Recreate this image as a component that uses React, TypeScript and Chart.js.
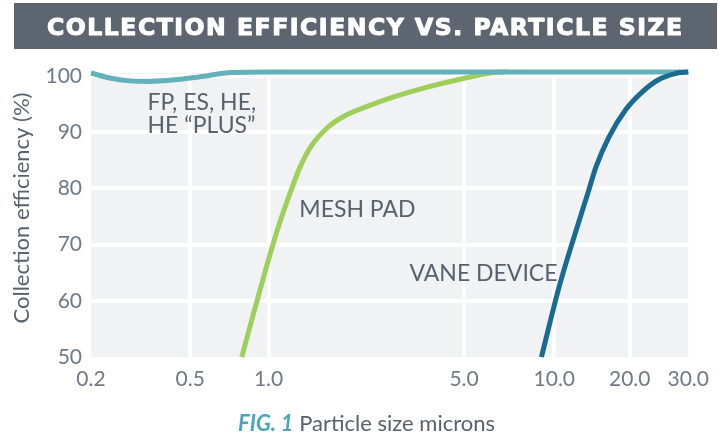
import React, { useEffect, useRef } from 'react';
import { Chart, LinearScale, registerables } from 'chart.js';

// ---- data ----
const X_TICKS = [0.2, 0.5, 1.0, 5.0, 10.0, 20.0, 30.0];
const Y_TICKS = [50, 60, 70, 80, 90, 100];

const FP_SIZE = [0.2, 0.238, 0.286, 0.343, 0.412, 0.541, 0.723, 1.0, 5.0, 30.0];
const FP_EFF = [100.5, 99.6, 99.1, 99.0, 99.2, 99.8, 100.6, 100.7, 100.7, 100.7];

const MESH_SIZE = [0.789, 0.877, 0.974, 1.085, 1.207, 1.299, 1.421, 1.633, 1.876, 2.264, 2.822, 3.698, 4.84, 6.28, 6.94];
const MESH_EFF = [50, 57.9, 65.5, 73.2, 79.8, 83.9, 87.5, 90.9, 92.9, 94.6, 96.3, 98.0, 99.4, 100.6, 100.7];

const VANE_SIZE = [9.06, 10.46, 12.0, 13.63, 14.67, 16.52, 19.29, 21.87, 24.4, 27.4, 30.0];
const VANE_EFF = [50, 62.5, 71.4, 79.2, 83.8, 89.1, 94.0, 97.2, 99.3, 100.4, 100.7];

const TITLE = 'COLLECTION EFFICIENCY VS. PARTICLE SIZE';
const Y_TITLE = 'Collection efficiency (%)';
const LABEL_TEXT = [['FP, ES, HE,', 'HE \u201CPLUS\u201D'], ['MESH PAD'], ['VANE DEVICE']];
const LABEL_AT_SIZE = [0.337, 1.288, 3.19];
const LABEL_AT_EFF = [94, 74.9, 63.5];

// ---- layout of the hand-drawn (non-uniform) particle size axis ----
const X_TICK_POS = [0, 0.1661, 0.2973, 0.6246, 0.7757, 0.902, 1];

function sizeToFraction(v: number): number {
  const t = X_TICKS, f = X_TICK_POS;
  let i = 0;
  if (v <= t[0]) i = 0;
  else if (v >= t[t.length - 1]) i = t.length - 2;
  else {
    while (i < t.length - 2 && v > t[i + 1]) i++;
  }
  return f[i] + (f[i + 1] - f[i]) * Math.log(v / t[i]) / Math.log(t[i + 1] / t[i]);
}
function fractionToSize(p: number): number {
  const t = X_TICKS, f = X_TICK_POS;
  let i = 0;
  if (p <= f[0]) i = 0;
  else if (p >= f[f.length - 1]) i = f.length - 2;
  else {
    while (i < f.length - 2 && p > f[i + 1]) i++;
  }
  return t[i] * Math.pow(t[i + 1] / t[i], (p - f[i]) / (f[i + 1] - f[i]));
}

class ParticleSizeScale extends LinearScale {
  static id = 'particleSize';
  getPixelForValue(value: any) {
    if (value === null || value === undefined || isNaN(value)) return NaN as any;
    return this.getPixelForDecimal(sizeToFraction(+value));
  }
  getValueForPixel(pixel: number) {
    return fractionToSize(this.getDecimalForPixel(pixel));
  }
}

Chart.register(...registerables, ParticleSizeScale);

const FONT = 'Lato, "Open Sans", sans-serif';
const TEXT = '#57626c';

const plotPlugin = {
  id: 'plotDecor',
  beforeDraw(chart: any) {
    const { ctx, chartArea: a } = chart;
    ctx.save();
    ctx.fillStyle = '#f0f2f4';
    ctx.fillRect(a.left, a.top, a.right - a.left, a.bottom - a.top);
    // title banner
    ctx.fillStyle = '#5d6670';
    ctx.fillRect(14, 3, 703, 46);
    ctx.fillStyle = '#ffffff';
    ctx.strokeStyle = '#ffffff';
    ctx.lineWidth = 1.1;
    ctx.lineJoin = 'round';
    ctx.font = `bold 23.5px "DejaVu Sans", "Open Sans", sans-serif`;
    ctx.textAlign = 'left';
    ctx.textBaseline = 'alphabetic';
    (ctx as any).letterSpacing = '0px';
    const w = ctx.measureText(TITLE).width;
    const spacing = Math.max(-1.5, Math.min(2.5, (635 - w) / (TITLE.length - 1)));
    (ctx as any).letterSpacing = `${spacing.toFixed(2)}px`;
    ctx.fillText(TITLE, 47, 35);
    ctx.strokeText(TITLE, 47, 35);
    (ctx as any).letterSpacing = '0px';
    ctx.restore();
  },
  afterDraw(chart: any) {
    const { ctx, chartArea: a } = chart;
    const xs = chart.scales.x, ys = chart.scales.y;
    ctx.save();
    ctx.fillStyle = TEXT;
    ctx.font = `23px ${FONT}`;
    ctx.textAlign = 'left';
    ctx.textBaseline = 'alphabetic';
    LABEL_TEXT.forEach((lines, i) => {
      const px = xs.getPixelForValue(LABEL_AT_SIZE[i]);
      const py = ys.getPixelForValue(LABEL_AT_EFF[i]);
      lines.forEach((ln, j) => ctx.fillText(ln, px, py + j * 23));
    });
    // y axis title
    ctx.translate(22, (a.top + a.bottom) / 2 - 7);
    ctx.rotate(-Math.PI / 2);
    ctx.textAlign = 'center';
    ctx.textBaseline = 'middle';
    ctx.font = `22px ${FONT}`;
    ctx.fillText(Y_TITLE, 0, 0);
    ctx.restore();
  },
};

export default function App() {
  const ref = useRef<HTMLCanvasElement>(null);
  useEffect(() => {
    document.body.style.margin = '0';
    const mk = (xs: number[], ys: number[]) => xs.map((x, i) => ({ x, y: ys[i] }));
    const chart = new Chart(ref.current!, {
      type: 'line',
      data: {
        datasets: [
          { label: 'Vane device', data: mk(VANE_SIZE, VANE_EFF), borderColor: '#1a6b92', order: 0 },
          { label: 'FP, ES, HE, HE PLUS', data: mk(FP_SIZE, FP_EFF), borderColor: '#62b1bb', order: 1 },
          { label: 'Mesh pad', data: mk(MESH_SIZE, MESH_EFF), borderColor: '#9fcf5b', order: 2 },
        ].map((d) => ({
          ...d,
          borderWidth: 5,
          pointRadius: 0,
          fill: false,
          cubicInterpolationMode: 'monotone' as const,
          clip: 8,
        })),
      },
      options: {
        responsive: false,
        animation: false,
        layout: { padding: { top: 73, right: 26, left: 0, bottom: 0 } },
        plugins: { legend: { display: false }, tooltip: { enabled: false }, title: { display: false } },
        scales: {
          x: {
            type: 'particleSize' as any,
            min: 0.2,
            max: 30,
            afterBuildTicks: (s: any) => { s.ticks = X_TICKS.map((v) => ({ value: v })); },
            afterFit: (s: any) => { s.height = 79; },
            ticks: {
              autoSkip: false,
              maxRotation: 0,
              padding: 10,
              color: '#6f7a84',
              font: { family: FONT, size: 21 },
              callback: (v: any) => Number(v).toFixed(1),
            },
            grid: {
              lineWidth: 4,
              drawTicks: false,
              color: (c: any) => (c.tick && (c.tick.value === X_TICKS[0] || c.tick.value === X_TICKS[X_TICKS.length - 1]) ? 'rgba(0,0,0,0)' : '#ffffff'),
            },
            border: { display: false },
          },
          y: {
            type: 'linear',
            min: 50,
            max: 100.5,
            afterBuildTicks: (s: any) => { s.ticks = Y_TICKS.map((v) => ({ value: v })); },
            afterFit: (s: any) => { s.width = 91; },
            ticks: {
              padding: 9,
              color: '#6f7a84',
              font: { family: FONT, size: 21 },
            },
            grid: {
              lineWidth: 4,
              drawTicks: false,
              color: (c: any) => (c.tick && c.tick.value === Y_TICKS[0] ? 'rgba(0,0,0,0)' : '#ffffff'),
            },
            border: { display: false },
          },
        },
      },
      plugins: [plotPlugin],
    });
    return () => chart.destroy();
  }, []);

  return (
    <div style={{ position: 'relative', width: 719, height: 436, background: '#ffffff', overflow: 'hidden' }}>
      <canvas ref={ref} width={719} height={436} style={{ position: 'absolute', left: 0, top: 0, display: 'block' }} />
      <div
        style={{
          position: 'absolute', left: 238, top: 410, fontFamily: FONT, fontSize: 22, color: TEXT,
          whiteSpace: 'nowrap', lineHeight: '26px',
        }}
      >
        <span style={{ color: '#4ba6b8', fontStyle: 'italic', fontWeight: 700 }}>FIG. 1</span> Particle size microns
      </div>
    </div>
  );
}
